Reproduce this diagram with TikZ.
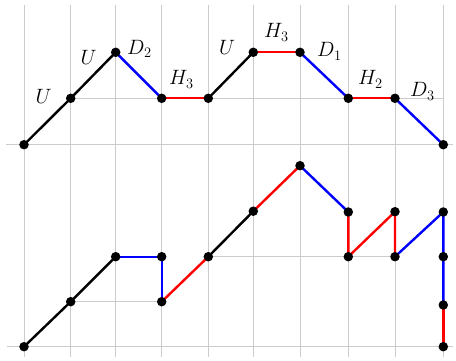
\documentclass[tikz,border=0pt]{standalone}
\begin{document}
\begin{tikzpicture}[x=1pt,y=-1pt,
  dot/.style={circle, fill=black, inner sep=0pt, minimum size=9.5pt},
  seg/.style={line width=2.4pt},
  grd/.style={draw=black!20, line width=1pt},
  lab/.style={anchor=base west, inner sep=0pt, font=\fontsize{20}{24}\selectfont}]
\useasboundingbox (0,0) rectangle (456,361);
% vertical grid
\foreach \x in {24,70.7,115.7,161.7,208.3,253.3,300,348.3,395,443.3}
  \draw[grd] (\x,5) -- (\x,357);
% horizontal grid (top)
\draw[grd] (6,144.7) -- (453,144.7);
\draw[grd] (70.7,98.3) -- (443.3,98.3);
% horizontal grid (bottom)
\draw[grd] (7,346.7) -- (453,346.7);
\draw[grd] (70.7,301.7) -- (161.7,301.7);
\draw[grd] (208.3,256.7) -- (395,256.7);

% top path points
\coordinate (a0) at (24,144.7);
\coordinate (a1) at (70.7,98.3);
\coordinate (a2) at (115.7,52.3);
\coordinate (a3) at (161.7,98.3);
\coordinate (a4) at (208.3,98.3);
\coordinate (a5) at (253.3,52.3);
\coordinate (a6) at (300,52.3);
\coordinate (a7) at (348.3,98.3);
\coordinate (a8) at (395,98.3);
\coordinate (a9) at (443.3,144.7);

\draw[seg] (a0) -- (a1) -- (a2);
\draw[seg,blue] (a2) -- (a3);
\draw[seg,red] (a3) -- (a4);
\draw[seg] (a4) -- (a5);
\draw[seg,red] (a5) -- (a6);
\draw[seg,blue] (a6) -- (a7);
\draw[seg,red] (a7) -- (a8);
\draw[seg,blue] (a8) -- (a9);

% bottom path points
\coordinate (b0) at (24,346.7);
\coordinate (b1) at (70.7,301.7);
\coordinate (b2) at (115.7,256.7);
\coordinate (b3) at (161.7,256.7);
\coordinate (b4) at (161.7,301.7);
\coordinate (b5) at (208.3,256.7);
\coordinate (b6) at (253.3,211.2);
\coordinate (b7) at (300,165.7);
\coordinate (b8) at (348.3,212);
\coordinate (b9) at (348.3,256.7);
\coordinate (b10) at (395,211.7);
\coordinate (b11) at (395,256.7);
\coordinate (b12) at (443.3,212);
\coordinate (b13) at (443.3,256.7);
\coordinate (b14) at (443.3,305);
\coordinate (b15) at (443.3,346.7);

\draw[seg] (b0) -- (b1) -- (b2);
\draw[seg,blue] (b2) -- (b3) -- (b4);
\draw[seg,red] (b4) -- (b5);
\draw[seg] (b5) -- (b6);
\draw[seg,red] (b6) -- (b7);
\draw[seg,blue] (b7) -- (b8);
\draw[seg,red] (b8) -- (b9) -- (b10) -- (b11);
\draw[seg,blue] (b11) -- (b12) -- (b13) -- (b14);
\draw[seg,red] (b14) -- (b15);

% dots
\foreach \p in {a0,a1,a2,a3,a4,a5,a6,a7,a8,a9,b0,b1,b2,b3,b4,b5,b6,b7,b8,b9,b10,b11,b12,b13,b14,b15}
  \node[dot] (d\p) at (\p) {};

% labels
\node[lab] (l1) at (35.5,104) {$U$};
\node[lab] (l2) at (80.5,65) {$U$};
\node[lab] (l3) at (127,54.5) {$D_2$};
\node[lab] (l4) at (169,85) {$H_3$};
\node[lab] (l5) at (219,55) {$U$};
\node[lab] (l6) at (264,38) {$H_3$};
\node[lab] (l7) at (317,57) {$D_1$};
\node[lab] (l8) at (358,85) {$H_2$};
\node[lab] (l9) at (410,97) {$D_3$};
\end{tikzpicture}
\end{document}
